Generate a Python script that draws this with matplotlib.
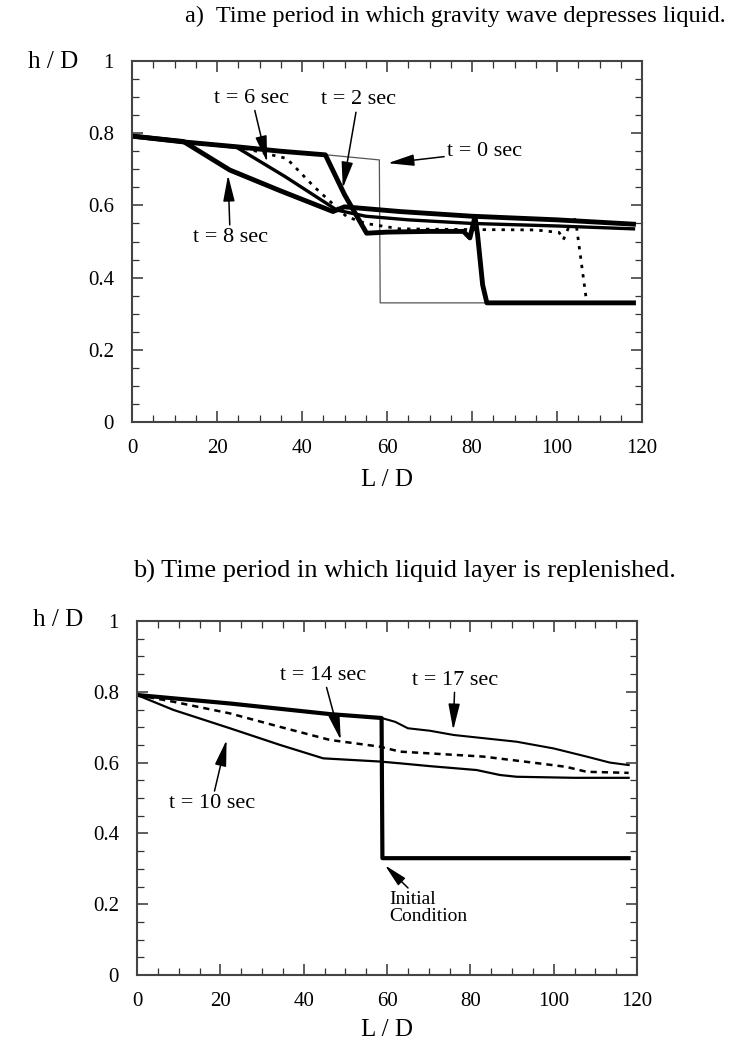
import numpy as np
import matplotlib
matplotlib.use("Agg")
from matplotlib import pyplot as plt

plt.rcParams['font.family'] = ['Liberation Serif', 'DejaVu Serif']

# ---- panel a: gravity wave depresses liquid ----
x_a0 = [0, 58.2, 58.4, 118]
y_a0 = [0.792, 0.726, 0.33, 0.33]

x_a2 = [0, 12, 25, 35, 45.5, 50, 55.2, 60, 70, 78, 79.5, 80.7, 81.3, 82.5, 83.5, 118]
y_a2 = [0.792, 0.776, 0.762, 0.75, 0.74, 0.63, 0.523, 0.526, 0.528, 0.528, 0.51, 0.569, 0.52, 0.38, 0.33, 0.33]

x_a4 = [0, 12, 25, 36.4, 43, 50.5, 55, 63, 80, 95, 100.5, 101.5, 103.9, 104.6, 107, 118]
y_a4 = [0.792, 0.776, 0.762, 0.73, 0.65, 0.569, 0.55, 0.535, 0.533, 0.532, 0.525, 0.505, 0.571, 0.54, 0.33, 0.33]

x_a6 = [0, 12, 24.6, 36, 48.2, 55, 65, 80, 100, 118]
y_a6 = [0.792, 0.776, 0.761, 0.68, 0.587, 0.57, 0.56, 0.55, 0.543, 0.535]

x_a8 = [0, 12.1, 23, 35, 47.3, 50, 63, 80, 100, 118]
y_a8 = [0.792, 0.777, 0.698, 0.64, 0.583, 0.596, 0.583, 0.57, 0.56, 0.548]

# ---- panel b: liquid layer replenished ----
x_init = [0, 22.3, 46.3, 58.7, 58.9, 118]
y_init = [0.791, 0.767, 0.737, 0.726, 0.33, 0.33]

x_b10 = [0, 8.7, 22.3, 34.3, 44.7, 58.3, 63.1, 70.3, 81.5, 87.1, 91.1, 105, 118]
y_b10 = [0.791, 0.749, 0.697, 0.65, 0.612, 0.603, 0.598, 0.59, 0.579, 0.565, 0.56, 0.557, 0.557]

x_b14 = [0, 8.7, 22.3, 34.3, 46.3, 58.3, 63.1, 70.3, 83.1, 95, 103, 107.9, 118]
y_b14 = [0.791, 0.772, 0.739, 0.701, 0.664, 0.645, 0.631, 0.626, 0.617, 0.6, 0.588, 0.574, 0.571]

x_b17 = [0, 22.3, 46.3, 58.7, 62, 65, 70.3, 76, 91.1, 100, 107.9, 113.5, 118]
y_b17 = [0.791, 0.767, 0.737, 0.726, 0.715, 0.697, 0.69, 0.678, 0.659, 0.64, 0.617, 0.6, 0.593]

x_ticks = [0, 20, 40, 60, 80, 100, 120]
y_ticks = [0, 0.2, 0.4, 0.6, 0.8, 1]
y_ticklabels = ['0', '0.2', '0.4', '0.6', '0.8', '1']


def style_axes(ax):
    ax.set_xlim(0, 120)
    ax.set_ylim(0, 1)
    ax.set_xticks(x_ticks)
    ax.set_xticks(np.arange(0, 121, 5), minor=True)
    ax.set_yticks(y_ticks)
    ax.set_yticklabels(y_ticklabels)
    ax.set_yticks(np.arange(0, 1.001, 0.05), minor=True)
    ax.tick_params(which='both', direction='in', top=True, right=True,
                   labelsize=15, color='#333333')
    ax.tick_params(axis='x', pad=12)
    ax.tick_params(axis='y', pad=13)
    ax.tick_params(which='major', length=8, width=1.1)
    ax.tick_params(which='minor', length=5, width=0.9)
    for s in ax.spines.values():
        s.set_linewidth(1.5)
        s.set_color('#444444')


arrow = dict(arrowstyle='-|>,head_length=1.0,head_width=0.22', color='black',
             lw=1.1, shrinkA=0, shrinkB=0)

fig = plt.figure(figsize=(7.36, 10.51), dpi=100)

# panel a
ax1 = fig.add_axes([132/736, 1-422/1051, 510/736, 361/1051])
style_axes(ax1)
ax1.plot(x_a0, y_a0, color='#555555', lw=0.9)
ax1.plot(x_a8, y_a8, color='black', lw=3.5)
ax1.plot(x_a6, y_a6, color='black', lw=2.4)
ax1.plot(x_a4, y_a4, color='black', lw=2.0, ls=(0, (1.2, 2.2)))
ax1.plot(x_a2, y_a2, color='black', lw=3.5)

ax1.annotate('t = 6 sec', xy=(31.8, 0.72), xytext=(28.2, 0.897), fontsize=16,
             ha='center', va='center', arrowprops=arrow)
ax1.annotate('t = 2 sec', xy=(49.6, 0.648), xytext=(53.2, 0.892), fontsize=16,
             ha='center', va='center', arrowprops=arrow)
ax1.annotate('t = 8 sec', xy=(22.6, 0.684), xytext=(23.1, 0.512), fontsize=16,
             ha='center', va='center', arrowprops=arrow)
ax1.annotate('t = 0 sec', xy=(60.2, 0.717), xytext=(74.1, 0.748), fontsize=16,
             ha='left', va='center', arrowprops=arrow)

fig.text(455/736, 1-16/1051, 'a)  Time period in which gravity wave depresses liquid.',
         ha='center', va='center', fontsize=17.5)
fig.text(53/736, 1-62/1051, 'h / D', ha='center', va='center', fontsize=18)
ax1.set_xlabel('L / D', fontsize=18, labelpad=8)

# panel b
ax2 = fig.add_axes([137/736, 1-975/1051, 500/736, 354/1051])
style_axes(ax2)
ax2.plot(x_b10, y_b10, color='black', lw=1.6)
ax2.plot(x_b14, y_b14, color='black', lw=1.8, ls=(0, (2.5, 2.0)))
ax2.plot(x_b17, y_b17, color='black', lw=1.5)
ax2.plot(x_init, y_init, color='black', lw=3.0)

ax2.annotate('t = 14 sec', xy=(48.9, 0.664), xytext=(44.7, 0.847), fontsize=16,
             ha='center', va='center', arrowprops=arrow)
ax2.annotate('t = 17 sec', xy=(75.9, 0.692), xytext=(76.3, 0.833), fontsize=16,
             ha='center', va='center', arrowprops=arrow)
ax2.annotate('t = 10 sec', xy=(21.5, 0.664), xytext=(17.9, 0.485), fontsize=16,
             ha='center', va='center', arrowprops=arrow)
ax2.annotate('Initial\nCondition', xy=(59.5, 0.31), xytext=(60.5, 0.19), fontsize=14,
             ha='left', va='center', linespacing=1.0, arrowprops=arrow)

fig.text(404/736, 1-571/1051, 'b) Time period in which liquid layer is replenished.',
         ha='center', va='center', fontsize=19)
fig.text(58/736, 1-620/1051, 'h / D', ha='center', va='center', fontsize=18)
ax2.set_xlabel('L / D', fontsize=18, labelpad=6)

fig.savefig('out.png', dpi=100)
